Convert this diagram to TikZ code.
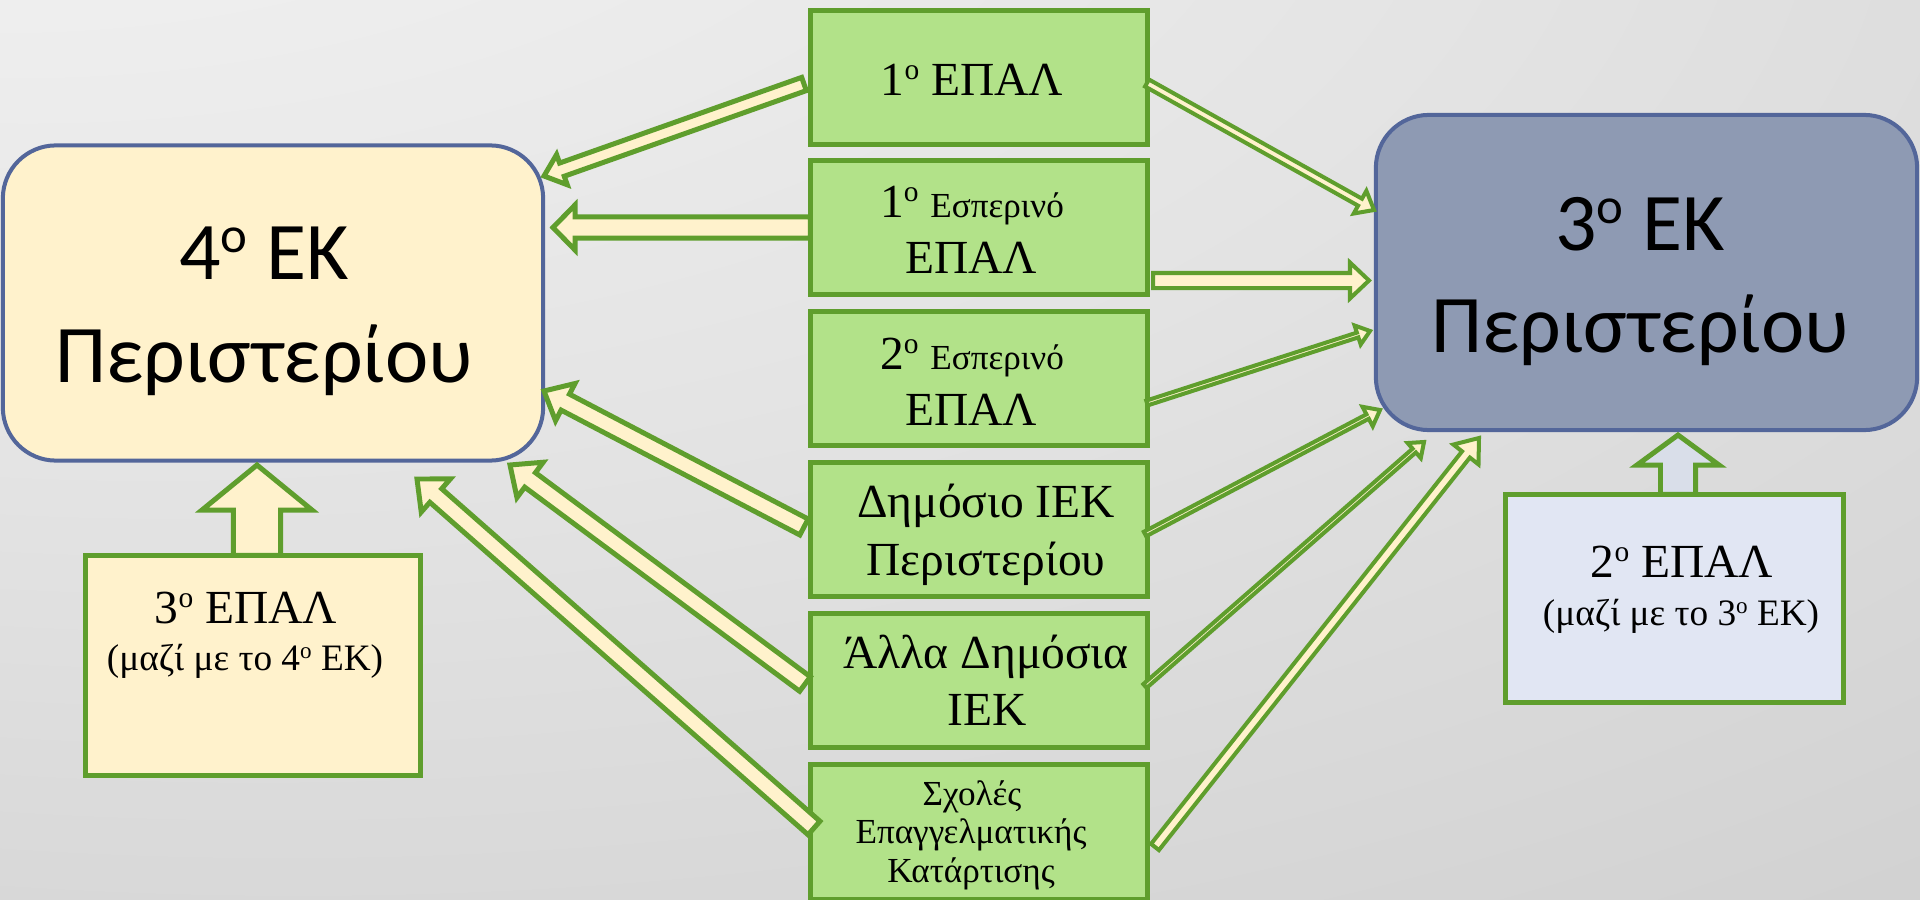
\documentclass[tikz,border=0pt]{standalone}
\usepackage{fontspec}
\usepackage{graphicx}
\setmainfont{Liberation Serif}
\newfontfamily\calib{Carlito}
\usetikzlibrary{calc}

\definecolor{cream}{HTML}{FFF2CC}
\definecolor{gfill}{HTML}{B2E289}
\definecolor{gline}{HTML}{5F9E2D}
\definecolor{bline}{HTML}{53669A}
\definecolor{bfill}{HTML}{8E9AB3}
\definecolor{lav}{HTML}{E1E6F3}
\definecolor{lavarrow}{HTML}{D9DEE9}
\definecolor{bgA}{HTML}{F7F7F7}
\definecolor{bgB}{HTML}{E4E4E4}
\definecolor{bgC}{HTML}{CACACA}
\definecolor{bgD}{HTML}{B6B6B6}

\pgfdeclareradialshading{bgrad}{\pgfpoint{-29bp}{47bp}}{color(0bp)=(bgA); color(35bp)=(bgB); color(75bp)=(bgC); color(130bp)=(bgD)}

\newcommand\supo[1]{\raisebox{0.32em}{\scalebox{0.62}{#1}}}

% block arrow: [style]{tail}{tip}{shaft half width}{head half width}{head length}
\newcommand\blockarr[6][]{%
  \coordinate (baq) at ($(#3)!#6!(#2)$);
  \draw[#1] ($(#2)!#4!90:(#3)$) -- ($(baq)!#4!-90:(#2)$) -- ($(baq)!#5!-90:(#2)$)
    -- (#3) -- ($(baq)!#5!90:(#2)$) -- ($(baq)!#4!90:(#2)$) -- ($(#2)!#4!-90:(#3)$) -- cycle;
}

\tikzset{
  ekbox/.style={draw=bline, line width=1.14pt, rounded corners=0.53cm, inner sep=0pt, outer sep=0pt,
    minimum width=5.4cm, minimum height=3.15cm},
  gbox/.style={draw=gline, fill=gfill, line width=1.42pt, inner sep=0pt, outer sep=0pt,
    minimum width=3.37cm, minimum height=1.34cm},
  sbox/.style={draw=gline, line width=1.42pt, inner sep=0pt, outer sep=0pt},
  ektx/.style={inner sep=0pt, anchor=base, font=\calib\fontsize{23.3}{28}\selectfont},
  tx/.style={inner sep=0pt, anchor=base, font=\fontsize{13.5}{16}\selectfont},
  stx/.style={inner sep=0pt, anchor=base, font=\fontsize{10}{12}\selectfont},
  ptx/.style={inner sep=0pt, anchor=base, font=\fontsize{10.6}{12}\selectfont},
  barrow/.style={draw=gline, fill=cream, line width=1.42pt, line join=miter},
  tarrow/.style={draw=gline, fill=cream, line width=1.14pt, line join=miter},
}

\begin{document}
\begin{tikzpicture}[x=0.01cm, y=-0.01cm]
\useasboundingbox (0,0) rectangle (1920,900);
\shade[shading=bgrad] (0,0) rectangle (1920,900);

% main boxes
\node[ekbox, fill=cream] (ek4) at (273,303) {};
\node[ekbox, fill=bfill, minimum width=5.41cm] (ek3) at (1646.5,272.5) {};

\node[ektx] (ek4a) at (264,279) {4\supo{ο} ΕΚ};
\node[ektx] (ek4b) at (264,382) {Περιστερίου};
\node[ektx] (ek3a) at (1640,250) {3\supo{ο} ΕΚ};
\node[ektx] (ek3b) at (1640,352) {Περιστερίου};

% centre column
\node[gbox] (g1) at (979,77.5) {};
\node[gbox] (g2) at (979,227.5) {};
\node[gbox] (g3) at (979,378.5) {};
\node[gbox] (g4) at (979,529.5) {};
\node[gbox] (g5) at (979,680.5) {};
\node[gbox] (g6) at (979,832) {};

\node[tx] (g1a) at (972,95) {1\supo{ο} ΕΠΑΛ};
\node[tx] (g2a) at (972,217) {1\supo{ο} {\fontsize{10}{12}\selectfont Εσπερινό}};
\node[tx] (g2b) at (971,273) {ΕΠΑΛ};
\node[tx] (g3a) at (972,369) {2\supo{ο} {\fontsize{10}{12}\selectfont Εσπερινό}};
\node[tx] (g3b) at (971,425) {ΕΠΑΛ};
\node[tx] (g4a) at (986,517) {Δημόσιο ΙΕΚ};
\node[tx] (g4b) at (986,575) {Περιστερίου};
\node[tx] (g5a) at (986,668) {Άλλα Δημόσια};
\node[tx] (g5b) at (987,725) {ΙΕΚ};
\node[stx] (g6a) at (972,805) {Σχολές};
\node[stx] (g6b) at (971,843) {Επαγγελματικής};
\node[stx] (g6c) at (971,882) {Κατάρτισης};

% lower boxes
\node[sbox, fill=cream, minimum width=3.35cm, minimum height=2.2cm] (e3) at (253,665.5) {};
\node[tx] (e3a) at (246,623) {3\supo{ο} ΕΠΑΛ};
\node[ptx] (e3b) at (245,670) {(μαζί με το 4\supo{ο} ΕΚ)};

\node[sbox, fill=lav, minimum width=3.38cm, minimum height=2.08cm] (e2) at (1674.5,598.5) {};
\node[tx] (e2a) at (1682,577) {2\supo{ο} ΕΠΑΛ};
\node[ptx] (e2b) at (1681,625) {(μαζί με το 3\supo{ο} ΕΚ)};

% arrow end points
\coordinate (u1s) at (e3.north -| 257,0);
\coordinate (u1e) at (257,465);
\coordinate (u2s) at (e2.north -| 1678,0);
\coordinate (u2e) at (1678,435);

\coordinate (a1s) at (804,84);   \coordinate (a1e) at (544,176);
\coordinate (a2s) at (g2.west);  \coordinate (a2e) at (553,227.5);
\coordinate (a4s) at (804,527);  \coordinate (a4e) at (544,391);
\coordinate (a5s) at (805,684);  \coordinate (a5e) at (510,465);
\coordinate (a6s) at (814,828);  \coordinate (a6e) at (417,479);

\coordinate (b1s) at (1147,83);  \coordinate (b1e) at (1374,210);
\coordinate (b2s) at (1153,280.5); \coordinate (b2e) at (1369,280.5);
\coordinate (b3s) at (1147,403); \coordinate (b3e) at (1370,331);
\coordinate (b4s) at (1145,534); \coordinate (b4e) at (1380,410);
\coordinate (b5s) at (1145,686); \coordinate (b5e) at (1424,442);
\coordinate (b6s) at (1155,847); \coordinate (b6e) at (1479,438);

% up arrows
\blockarr[barrow]{u1s}{u1e}{0.235cm}{0.55cm}{0.45cm}
\blockarr[barrow, fill=lavarrow]{u2s}{u2e}{0.175cm}{0.41cm}{0.30cm}

% arrows to 4o EK
\blockarr[barrow]{a1s}{a1e}{0.07cm}{0.16cm}{0.19cm}
\blockarr[barrow]{a2s}{a2e}{0.105cm}{0.225cm}{0.22cm}
\blockarr[barrow]{a4s}{a4e}{0.09cm}{0.21cm}{0.24cm}
\blockarr[barrow]{a5s}{a5e}{0.09cm}{0.22cm}{0.25cm}
\blockarr[barrow]{a6s}{a6e}{0.09cm}{0.22cm}{0.25cm}

% arrows to 3o EK
\blockarr[tarrow]{b1s}{b1e}{0.04cm}{0.13cm}{0.16cm}
\blockarr[tarrow]{b2s}{b2e}{0.075cm}{0.18cm}{0.19cm}
\blockarr[tarrow]{b3s}{b3e}{0.025cm}{0.10cm}{0.13cm}
\blockarr[tarrow]{b4s}{b4e}{0.025cm}{0.11cm}{0.14cm}
\blockarr[tarrow]{b5s}{b5e}{0.025cm}{0.10cm}{0.13cm}
\blockarr[tarrow]{b6s}{b6e}{0.05cm}{0.16cm}{0.21cm}
\end{tikzpicture}
\end{document}
